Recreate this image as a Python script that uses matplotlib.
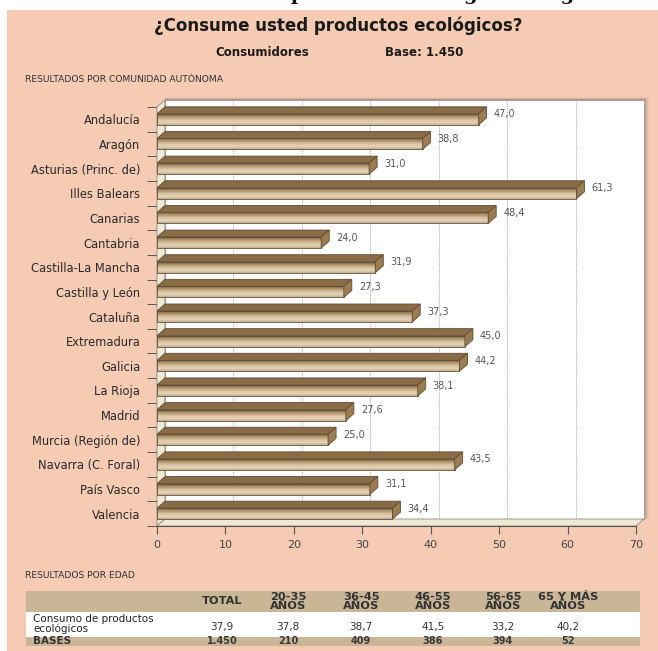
import numpy as np
import matplotlib.pyplot as plt
from matplotlib.patches import Polygon, Rectangle
from matplotlib.colors import LinearSegmentedColormap

plt.rcParams['font.family'] = ['DejaVu Sans']

regions = ["Andalucía", "Aragón", "Asturias (Princ. de)", "Illes Balears", "Canarias",
           "Cantabria", "Castilla-La Mancha", "Castilla y León", "Cataluña", "Extremadura",
           "Galicia", "La Rioja", "Madrid", "Murcia (Región de)", "Navarra (C. Foral)",
           "País Vasco", "Valencia"]
consumo = [47.0, 38.8, 31.0, 61.3, 48.4, 24.0, 31.9, 27.3, 37.3, 45.0,
           44.2, 38.1, 27.6, 25.0, 43.5, 31.1, 34.4]

edad_cols = ["TOTAL", "20-35\nAÑOS", "36-45\nAÑOS", "46-55\nAÑOS", "56-65\nAÑOS", "65 Y MÁS\nAÑOS"]
edad_consumo = [37.9, 37.8, 38.7, 41.5, 33.2, 40.2]
edad_bases = ["1.450", "210", "409", "386", "394", "52"]

W, H = 658, 651
SALMON = "#f6cbb3"
TAN = "#c9b697"
CREAM = "#efe9d4"


def fx(x):
    return x / W


def fy(y):
    return 1 - y / H


def fmt(v):
    return f"{v:.1f}".replace(".", ",")


fig = plt.figure(figsize=(W / 100, H / 100), dpi=100, facecolor="white")

# cut-off heading line from the page above (only descenders show)
fig.text(fx(150), fy(0), "Consumo de productos ecológicos en general", family="DejaVu Serif",
         fontweight="bold", fontsize=14, ha="left", va="baseline", color="#111")

fig.patches.append(Rectangle((fx(7), 0), 1, fy(10), transform=fig.transFigure,
                             facecolor=SALMON, edgecolor="none", zorder=-5))

fig.text(fx(338), fy(26), "¿Consume usted productos ecológicos?", fontsize=12,
         fontweight="bold", ha="center", va="center", color="#1a1a1a")
fig.text(fx(262), fy(53), "Consumidores", fontsize=8.5, fontweight="bold",
         ha="center", va="center", color="#1a1a1a")
fig.text(fx(424), fy(53), "Base: 1.450", fontsize=8.5, fontweight="bold",
         ha="center", va="center", color="#1a1a1a")
fig.text(fx(25), fy(79), "RESULTADOS POR COMUNIDAD AUTÓNOMA", fontsize=6.6,
         ha="left", va="center", color="#333")

# plot area: x 0..70 -> px 157..636, categories -> px 107..526
ax = fig.add_axes([fx(157), fy(526), (636 - 157) / W, (526 - 107) / H])
ax.set_facecolor("none")
n = len(regions)
ax.set_xlim(0, 70)
ax.set_ylim(n, 0)
for s in ax.spines.values():
    s.set_visible(False)

dx = 8 / 479 * 70
dy = -7 / 419 * n
hf = 11 / 419 * n

# shadow of the back wall
for k, a in zip([5, 4, 3, 2, 1], [0.05, 0.07, 0.09, 0.12, 0.16]):
    ox = k / 479 * 70
    oy = -k / 419 * n * 0.6
    ax.add_patch(Polygon([(dx, dy + oy), (70 + dx + ox, dy + oy), (70 + dx + ox, n + dy),
                          (dx, n + dy)], closed=True, facecolor="#555", alpha=a,
                         edgecolor="none", clip_on=False, zorder=1))
# back wall
ax.add_patch(Polygon([(dx, dy), (70 + dx, dy), (70 + dx, n + dy), (dx, n + dy)], closed=True,
                     facecolor="white", edgecolor="#9a9a9a", lw=0.6, clip_on=False, zorder=2))
for g in range(10, 70, 10):
    ax.plot([g + dx, g + dx], [dy, n + dy], color="#a8a8a8", lw=0.7, ls=(0, (1, 1)),
            clip_on=False, zorder=3)
# left wall and floor
ax.add_patch(Polygon([(0, 0), (dx, dy), (dx, n + dy), (0, n)], closed=True, facecolor=CREAM,
                     edgecolor="#8a8a80", lw=0.6, clip_on=False, zorder=4))
ax.add_patch(Polygon([(0, n), (70, n), (70 + dx, n + dy), (dx, n + dy)], closed=True,
                     facecolor=CREAM, edgecolor="#8a8a80", lw=0.6, clip_on=False, zorder=4))
ax.plot([0, 70], [n, n], color="#555", lw=0.8, clip_on=False, zorder=5)

grad = LinearSegmentedColormap.from_list(
    "bar", ["#7d6342", "#a68a63", "#c9b08b", "#ddcaac", "#e3d3b8", "#c4ab86"])
gimg = np.linspace(0, 1, 64).reshape(-1, 1)

for i, v in enumerate(consumo):
    c = i + 0.5
    top, bot = c - hf / 2, c + hf / 2
    ax.imshow(gimg, cmap=grad, extent=[0, v, bot, top], aspect="auto",
              interpolation="bilinear", zorder=6, clip_on=False)
    ax.add_patch(Rectangle((0, top), v, hf, facecolor="none", edgecolor="#5e4d38",
                           lw=0.6, zorder=7, clip_on=False))
    ax.add_patch(Polygon([(0, top), (v, top), (v + dx, top + dy), (dx, top + dy)], closed=True,
                         facecolor="#8a6c46", edgecolor="#5e4d38", lw=0.6, zorder=7,
                         clip_on=False))
    ax.add_patch(Polygon([(v, top), (v + dx, top + dy), (v + dx, bot + dy), (v, bot)],
                         closed=True, facecolor="#9c7c50", edgecolor="#5e4d38", lw=0.6,
                         zorder=7, clip_on=False))
    ax.text(v + 2.2, c - 0.2, fmt(v), fontsize=7, color="#555", ha="left", va="center",
            zorder=8)

ax.set_xlim(0, 70)
ax.set_ylim(n, 0)

ax.set_xticks(range(0, 71, 10))
ax.tick_params(axis="x", direction="out", length=6, width=0.8, color="#555",
               labelsize=8, labelcolor="#444", pad=4)
ax.set_yticks(np.arange(n) + 0.5)
ax.set_yticklabels(regions)
ax.tick_params(axis="y", which="major", length=0, labelsize=8.3, labelcolor="#2a2a2a", pad=12)
ax.set_yticks(np.arange(n + 1), minor=True)
ax.tick_params(axis="y", which="minor", direction="out", length=7, width=0.7, color="#555")

# age table
fig.text(fx(25), fy(575), "RESULTADOS POR EDAD", fontsize=6.6, ha="left", va="center",
         color="#333")
tl, tr = 26, 640
rows = [(591, 612, TAN), (612, 637, "white"), (637, 646, TAN)]
for y0, y1, col in rows:
    fig.patches.append(Rectangle((fx(tl), fy(y1)), (tr - tl) / W, (y1 - y0) / H,
                                 transform=fig.transFigure, facecolor=col,
                                 edgecolor="none", zorder=1))
col_x = [222, 288, 361, 433, 503, 568]
for x, lab, val, base in zip(col_x, edad_cols, edad_consumo, edad_bases):
    fig.text(fx(x), fy(601.5), lab, fontsize=8.2, fontweight="bold", ha="center",
             va="center", color="#333", linespacing=0.9)
    fig.text(fx(x), fy(627), fmt(val), fontsize=7.5, ha="center", va="center", color="#333")
    fig.text(fx(x), fy(641.5), base, fontsize=7, fontweight="bold", ha="center",
             va="center", color="#3a3a3a")
fig.text(fx(33), fy(624), "Consumo de productos\necológicos", fontsize=7.5, ha="left",
         va="center", color="#222", linespacing=0.95)
fig.text(fx(33), fy(641.5), "BASES", fontsize=7.5, fontweight="bold", ha="left",
         va="center", color="#333")

fig.savefig("out.png", dpi=100)
